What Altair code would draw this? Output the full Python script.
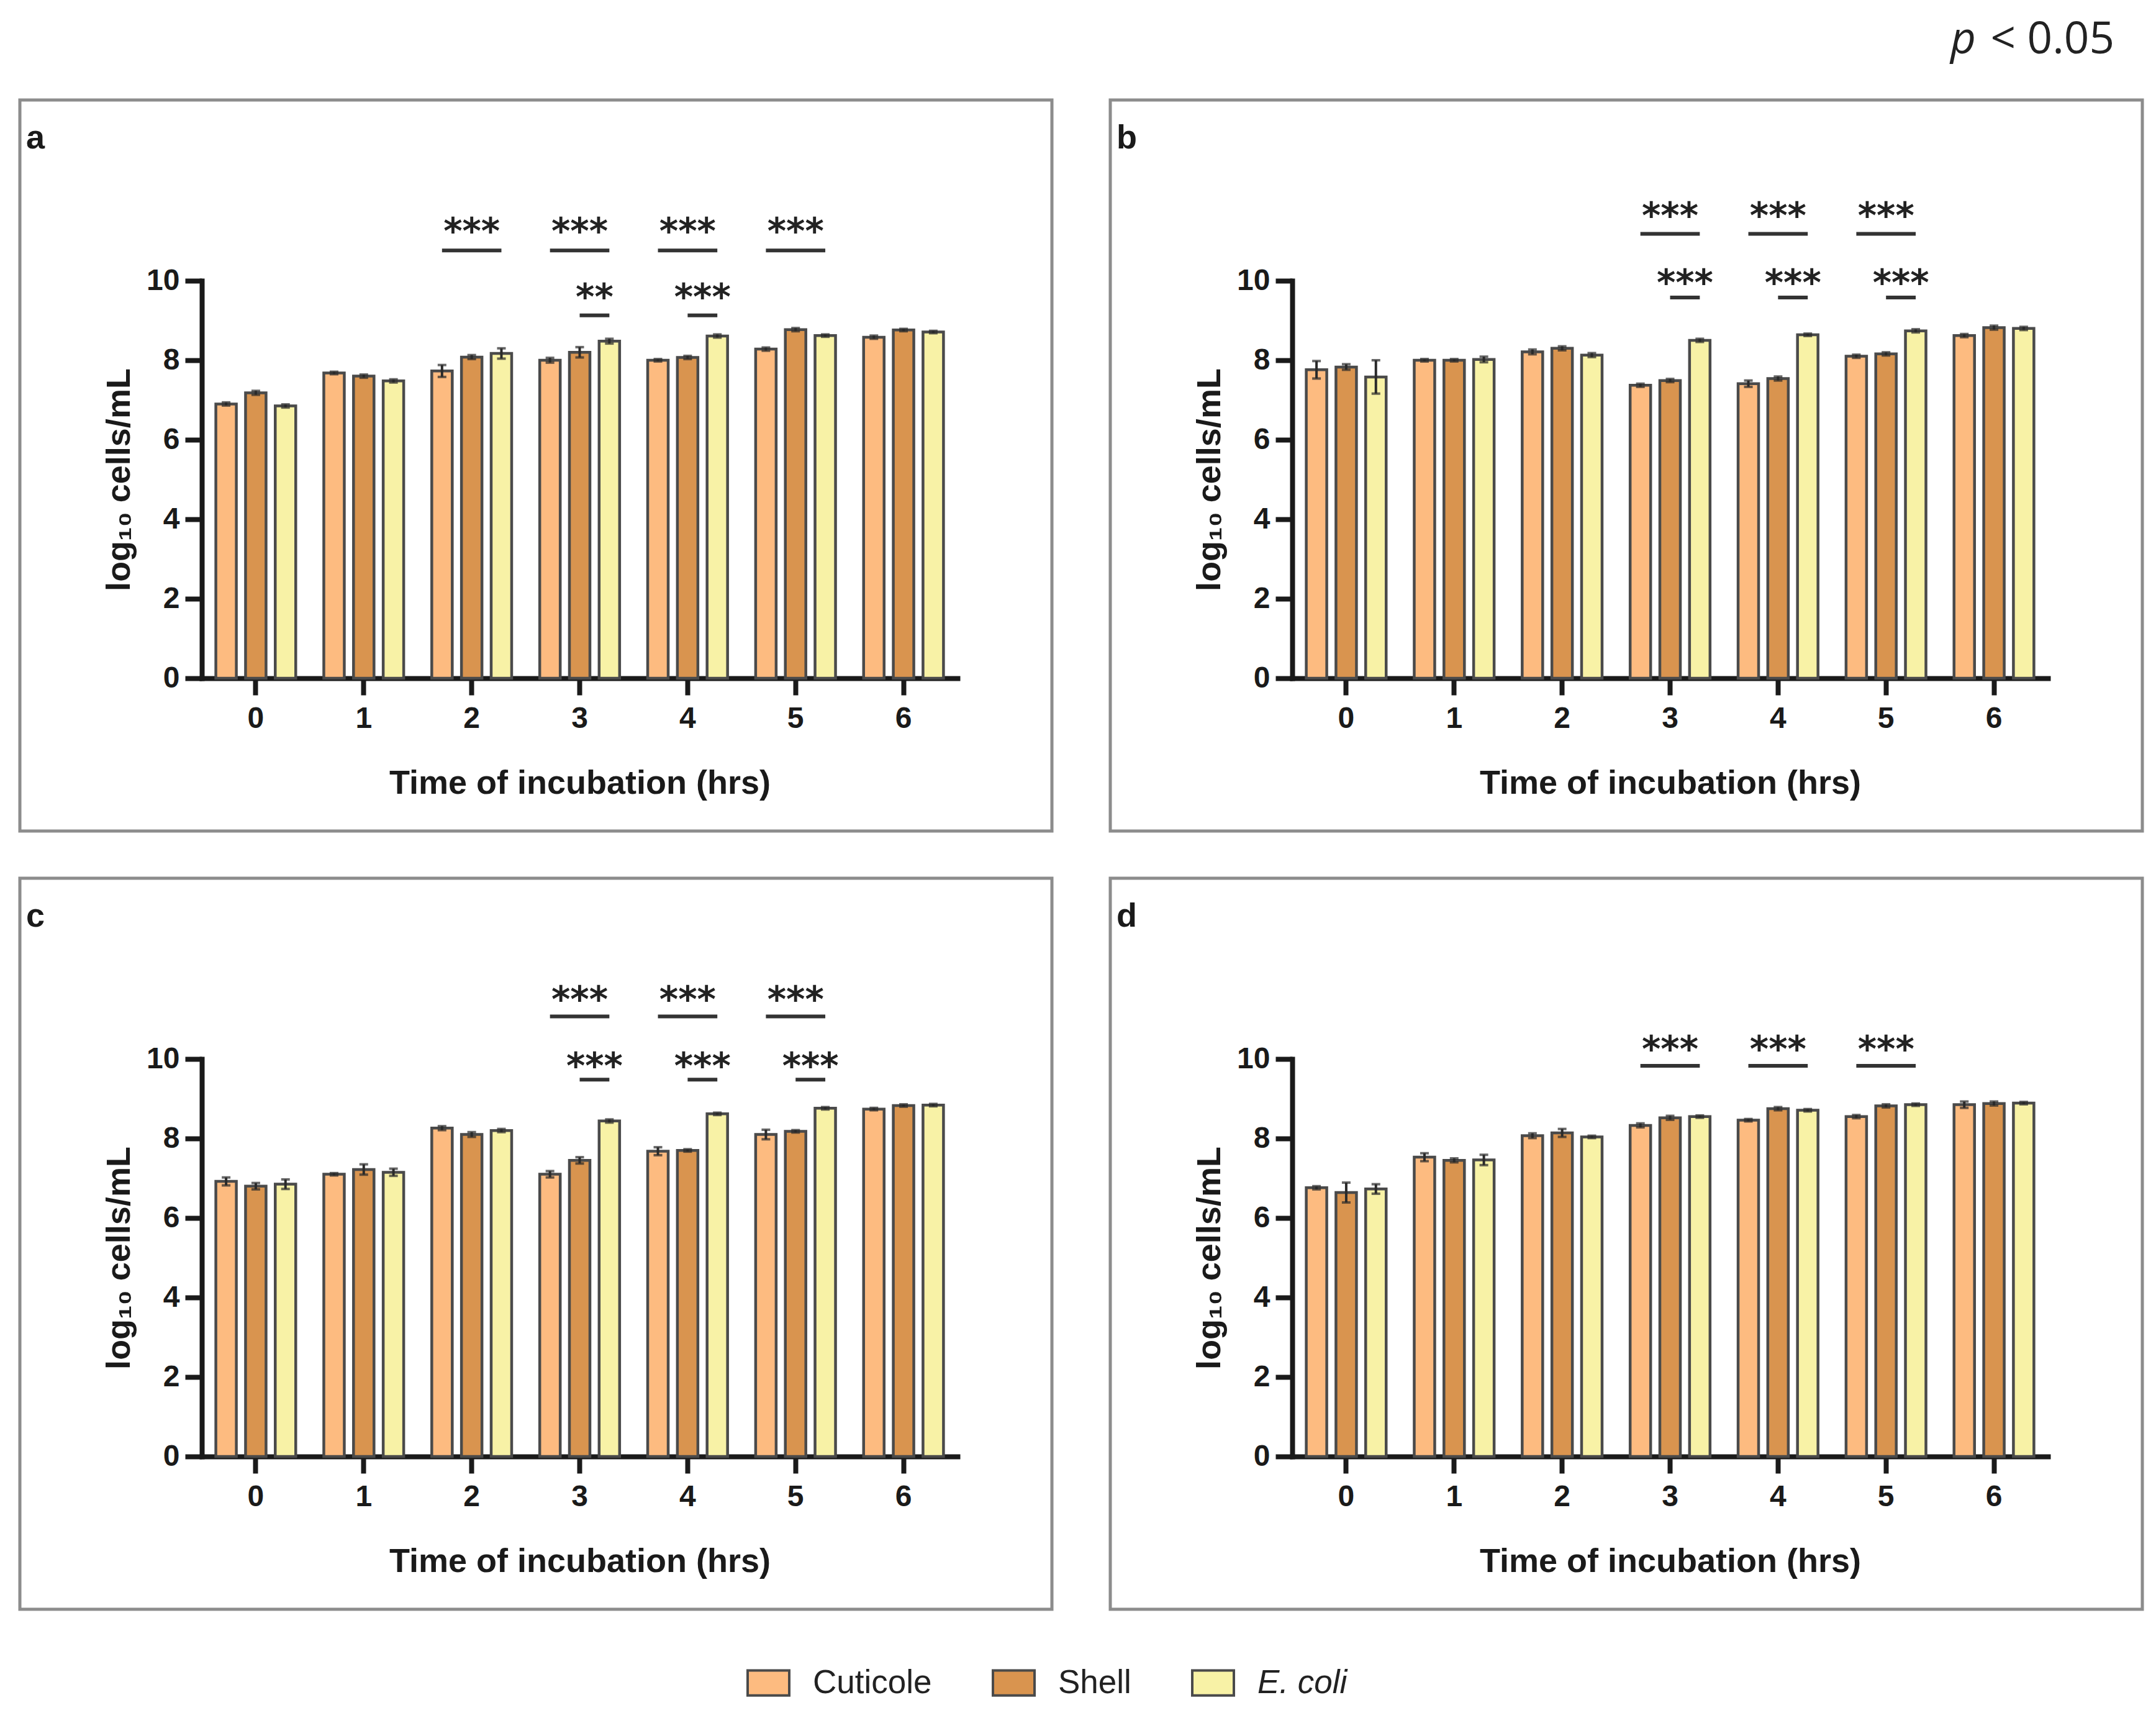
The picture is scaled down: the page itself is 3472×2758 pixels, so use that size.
import altair as alt
import pandas as pd

# ---------------- data ----------------
series = ["Cuticole", "Shell", "E. coli"]
hours = [0, 1, 2, 3, 4, 5, 6]
colors = ["#FDBB80", "#D9944F", "#F8F2A6"]

# panel a
a_cuticole = [6.90, 7.68, 7.73, 8.00, 8.00, 8.28, 8.58]
a_shell = [7.18, 7.60, 8.08, 8.20, 8.07, 8.77, 8.76]
a_ecoli = [6.85, 7.48, 8.17, 8.48, 8.61, 8.62, 8.71]
a_cuticole_sd = [0.04, 0.03, 0.15, 0.06, 0.03, 0.04, 0.04]
a_shell_sd = [0.05, 0.04, 0.05, 0.13, 0.04, 0.04, 0.03]
a_ecoli_sd = [0.04, 0.04, 0.13, 0.06, 0.04, 0.03, 0.03]

# panel b
b_cuticole = [7.76, 8.00, 8.21, 7.37, 7.41, 8.10, 8.62]
b_shell = [7.83, 8.00, 8.30, 7.49, 7.54, 8.16, 8.82]
b_ecoli = [7.58, 8.02, 8.13, 8.50, 8.64, 8.74, 8.80]
b_cuticole_sd = [0.22, 0.03, 0.06, 0.04, 0.08, 0.04, 0.04]
b_shell_sd = [0.07, 0.03, 0.05, 0.04, 0.05, 0.04, 0.05]
b_ecoli_sd = [0.42, 0.07, 0.05, 0.04, 0.03, 0.04, 0.04]

# panel c
c_cuticole = [6.92, 7.10, 8.26, 7.10, 7.68, 8.10, 8.74]
c_shell = [6.80, 7.22, 8.10, 7.45, 7.70, 8.18, 8.83]
c_ecoli = [6.85, 7.15, 8.20, 8.44, 8.62, 8.76, 8.84]
c_cuticole_sd = [0.10, 0.03, 0.05, 0.08, 0.10, 0.12, 0.03]
c_shell_sd = [0.08, 0.13, 0.06, 0.08, 0.03, 0.03, 0.03]
c_ecoli_sd = [0.12, 0.09, 0.04, 0.04, 0.03, 0.03, 0.03]

# panel d
d_cuticole = [6.76, 7.53, 8.07, 8.33, 8.46, 8.55, 8.85]
d_shell = [6.64, 7.45, 8.14, 8.52, 8.75, 8.82, 8.88]
d_ecoli = [6.73, 7.46, 8.04, 8.55, 8.71, 8.85, 8.89]
d_cuticole_sd = [0.04, 0.10, 0.06, 0.05, 0.03, 0.04, 0.08]
d_shell_sd = [0.25, 0.05, 0.10, 0.05, 0.04, 0.04, 0.05]
d_ecoli_sd = [0.12, 0.13, 0.03, 0.03, 0.03, 0.03, 0.03]

# significance brackets
a_sig_hour = [2, 3, 4, 5, 3, 4]
a_sig_from = ["Cuticole"] * 4 + ["Shell"] * 2
a_sig_to = ["E. coli"] * 6
a_sig_line = [10.76] * 4 + [9.13] * 2
a_sig_star = [11.46] * 4 + [9.79] * 2
a_sig_text = ["***"] * 4 + ["**", "***"]

b_sig_hour = [3, 4, 5, 3, 4, 5]
b_sig_from = ["Cuticole"] * 3 + ["Shell"] * 3
b_sig_to = ["E. coli"] * 6
b_sig_line = [11.18] * 3 + [9.58] * 3
b_sig_star = [11.84] * 3 + [10.16] * 3
b_sig_text = ["***"] * 6

c_sig_hour = [3, 4, 5, 3, 4, 5]
c_sig_from = ["Cuticole"] * 3 + ["Shell"] * 3
c_sig_to = ["E. coli"] * 6
c_sig_line = [11.07] * 3 + [9.48] * 3
c_sig_star = [11.70] * 3 + [10.03] * 3
c_sig_text = ["***"] * 6

d_sig_hour = [3, 4, 5]
d_sig_from = ["Cuticole"] * 3
d_sig_to = ["E. coli"] * 3
d_sig_line = [9.83] * 3
d_sig_star = [10.45] * 3
d_sig_text = ["***"] * 3

y_ticks = [0, 2, 4, 6, 8, 10]

# ---------------- style / layout ----------------
FW, FH = 1662, 1177           # panel frame (view) size
PX0, PW = 293, 1217           # plot area left offset and width inside the frame
PY0, PH = 291, 640            # plot area top offset and height inside the frame
PAD_IN, PAD_OUT = 0.26, 0.13
OFF_PAD = 0.31
RATIO = (1 - PAD_IN) / (3 - OFF_PAD)   # offset step / band step
FONT = "Liberation Sans"
INK = "#1a1a1a"
BAR_STROKE = "#4a4a4a"


def long_table(cut, shell, ecoli, cut_sd, shell_sd, ecoli_sd):
    rows = []
    for s, vals, sds in zip(series, [cut, shell, ecoli], [cut_sd, shell_sd, ecoli_sd]):
        for h, v, e in zip(hours, vals, sds):
            rows.append({"time": h, "series": s, "value": v, "lo": v - e, "hi": v + e})
    return pd.DataFrame(rows)


def sig_table(hr, fr, to, line_y, star_y, txt):
    rows = []
    for h, f, t, ly, sy, tx in zip(hr, fr, to, line_y, star_y, txt):
        x1 = h + RATIO * (series.index(f) - 1)
        x2 = h + RATIO * (series.index(t) - 1)
        rows.append({"x1": x1, "x2": x2, "xm": (x1 + x2) / 2, "line_y": ly,
                     "star_y": sy, "stars": tx})
    return pd.DataFrame(rows)


def panel(letter, df, sdf):
    yscale = alt.Scale(domain=[0, 10], nice=False, range=[PY0 + PH, PY0])
    xscale = alt.Scale(paddingInner=PAD_IN, paddingOuter=PAD_OUT, range=[PX0, PX0 + PW])
    offscale = alt.Scale(domain=series, paddingInner=OFF_PAD, paddingOuter=0)
    base = alt.Chart(df)
    bars = base.mark_bar(stroke=BAR_STROKE, strokeWidth=4.5).encode(
        x=alt.X("time:O", scale=xscale,
                axis=alt.Axis(title="Time of incubation (hrs)", labelAngle=0,
                              labelPadding=14, titlePadding=53,
                              offset=-(FH - PY0 - PH))),
        xOffset=alt.XOffset("series:N", scale=offscale, sort=series),
        y=alt.Y("value:Q", scale=yscale,
                axis=alt.Axis(values=y_ticks, format="d", title="log\u2081\u2080 cells/mL",
                              labelPadding=9, titlePadding=16, offset=-PX0)),
        color=alt.Color("series:N", sort=series,
                        scale=alt.Scale(domain=series, range=colors),
                        legend=alt.Legend(title=None)),
    )
    err = base.mark_rule(color="#2a2a2a", strokeWidth=4).encode(
        x=alt.X("time:O", scale=xscale),
        xOffset=alt.XOffset("series:N", scale=offscale, sort=series),
        y=alt.Y("lo:Q", scale=yscale),
        y2="hi:Q",
    )
    cap_hi = base.mark_tick(color="#2a2a2a", thickness=4, size=14, orient="horizontal").encode(
        x=alt.X("time:O", scale=xscale),
        xOffset=alt.XOffset("series:N", scale=offscale, sort=series),
        y=alt.Y("hi:Q", scale=yscale),
    )
    cap_lo = base.mark_tick(color="#2a2a2a", thickness=4, size=14, orient="horizontal").encode(
        x=alt.X("time:O", scale=xscale),
        xOffset=alt.XOffset("series:N", scale=offscale, sort=series),
        y=alt.Y("lo:Q", scale=yscale),
    )
    data_layer = alt.layer(bars, err, cap_hi, cap_lo)

    lin = alt.Scale(domain=[-0.5, 6.5], nice=False, zero=False, range=[PX0, PX0 + PW])
    sig_rule = alt.Chart(sdf).mark_rule(color="#333333", strokeWidth=6).encode(
        x=alt.X("x1:Q", scale=lin, axis=None),
        x2="x2:Q",
        y=alt.Y("line_y:Q", scale=yscale),
    )
    sig_text = alt.Chart(sdf).mark_text(font="DejaVu Sans", fontWeight="bold", fontSize=58,
                                        baseline="middle", dy=16, color="#222222").encode(
        x=alt.X("xm:Q", scale=lin, axis=None),
        y=alt.Y("star_y:Q", scale=yscale),
        text="stars:N",
    )
    sig_layer = alt.layer(sig_rule, sig_text)

    one = pd.DataFrame({"k": [0]})
    lab = alt.Chart(one).mark_text(text=letter, font=FONT, fontWeight="bold", fontSize=54,
                                   align="left", baseline="middle", color=INK).encode(
        x=alt.value(10), y=alt.value(62))

    return alt.layer(data_layer, sig_layer, lab).resolve_scale(
        x="independent").properties(
        width=FW, height=FH,
        view=alt.ViewBackground(stroke="#8c8c8c", strokeWidth=5))


pa = panel("a", long_table(a_cuticole, a_shell, a_ecoli, a_cuticole_sd, a_shell_sd, a_ecoli_sd),
           sig_table(a_sig_hour, a_sig_from, a_sig_to, a_sig_line, a_sig_star, a_sig_text))
pb = panel("b", long_table(b_cuticole, b_shell, b_ecoli, b_cuticole_sd, b_shell_sd, b_ecoli_sd),
           sig_table(b_sig_hour, b_sig_from, b_sig_to, b_sig_line, b_sig_star, b_sig_text))
pc = panel("c", long_table(c_cuticole, c_shell, c_ecoli, c_cuticole_sd, c_shell_sd, c_ecoli_sd),
           sig_table(c_sig_hour, c_sig_from, c_sig_to, c_sig_line, c_sig_star, c_sig_text))
pd_ = panel("d", long_table(d_cuticole, d_shell, d_ecoli, d_cuticole_sd, d_shell_sd, d_ecoli_sd),
            sig_table(d_sig_hour, d_sig_from, d_sig_to, d_sig_line, d_sig_star, d_sig_text))

one = pd.DataFrame({"k": [0]})
p_italic = alt.Chart(one).mark_text(text="p", font="Open Sans", fontStyle="italic", fontSize=71,
                                    align="right", baseline="alphabetic", color="#222").encode(
    x=alt.value(3150), y=alt.value(68))
p_rest = alt.Chart(one).mark_text(text="< 0.05", font="Open Sans", fontSize=71,
                                  align="right", baseline="alphabetic", color="#222").encode(
    x=alt.value(3373), y=alt.value(68))
p_chart = alt.layer(p_italic, p_rest).properties(
    width=3425, height=90, view=alt.ViewBackground(strokeOpacity=0))

row1 = alt.hconcat(pa, pb, spacing=88)
row2 = alt.hconcat(pc, pd_, spacing=88)
rows = alt.vconcat(row1, row2, spacing=70)

chart = alt.vconcat(p_chart, rows, spacing=50).properties(
    padding={"left": 21, "top": 10, "right": 0, "bottom": 4}
).configure_view(stroke=None).configure_axis(
    domainColor=INK, tickColor=INK, labelColor=INK, titleColor=INK,
    domainWidth=8, tickWidth=8, tickSize=27, domainCap="square",
    labelFont=FONT, titleFont=FONT, labelFontWeight="bold", titleFontWeight="bold",
    labelFontSize=48, titleFontSize=54, grid=False,
).configure_legend(
    orient="none", legendX=1170, legendY=2656, direction="horizontal",
    symbolType="M-1,-0.6H1V0.6H-1Z", symbolSize=4489,
    symbolStrokeColor=BAR_STROKE, symbolStrokeWidth=4, symbolOpacity=1,
    labelFont=FONT, labelFontSize=53, labelColor="#222", labelOffset=36,
    labelLimit=0, columnPadding=90, padding=0,
    labelFontStyle=alt.ExprRef("datum.label == 'E. coli' ? 'italic' : 'normal'"),
)

chart.save("out.html", embed_options={"renderer": "svg", "actions": False})
